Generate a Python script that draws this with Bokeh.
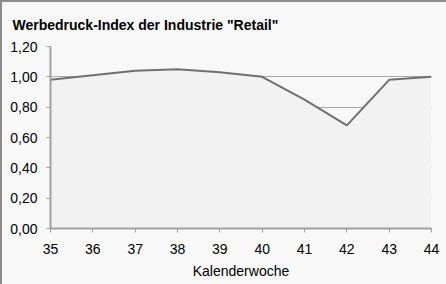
from bokeh.plotting import figure
from bokeh.models import FixedTicker, Range1d
from bokeh.embed import file_html
from bokeh.resources import INLINE

weeks = [35, 36, 37, 38, 39, 40, 41, 42, 43, 44]
index_values = [0.98, 1.01, 1.04, 1.05, 1.03, 1.00, 0.85, 0.68, 0.98, 1.00]
y_ticks = [0, 0.2, 0.4, 0.6, 0.8, 1.0, 1.2]
y_labels = ["0,00", "0,20", "0,40", "0,60", "0,80", "1,00", "1,20"]
title_text = 'Werbedruck-Index der Industrie "Retail"'
x_label = "Kalenderwoche"

FONT = "Liberation Sans"

p = figure(width=446, height=284, output_backend="svg", toolbar_location=None,
           x_range=Range1d(35, 44), y_range=Range1d(0, 1.2),
           min_border_left=50, min_border_right=15, min_border_top=46, min_border_bottom=56,
           background_fill_color="#f8f8f8", border_fill_color=None)
p.styles = {"background-color": "#f8f8f8", "box-shadow": "inset 2px 2px 0 0 #8c8c8c"}

p.title.text = title_text
p.title.text_font = FONT
p.title.text_font_size = "14px"
p.title.text_font_style = "bold"
p.title.text_color = "#000000"
p.title.align = "left"
p.title.offset = -38
p.title.standoff = 28

p.outline_line_color = None

p.varea(x=weeks, y1=[0] * len(weeks), y2=index_values, fill_color="#f2f2f2",
        hatch_pattern="v_line", hatch_color="#e4e4e4", hatch_scale=3, hatch_weight=1)
p.line(x=weeks, y=index_values, line_color="#707070", line_width=2)

p.xaxis.ticker = FixedTicker(ticks=weeks)
p.yaxis.ticker = FixedTicker(ticks=y_ticks)
p.yaxis.major_label_overrides = {t: l for t, l in zip(y_ticks, y_labels)}

for ax in (p.xaxis, p.yaxis):
    ax.axis_line_color = "#a0a0a0"
    ax.axis_line_width = 2
    ax.major_tick_line_color = "#a0a0a0"
    ax.major_tick_out = 4
    ax.major_tick_in = 0
    ax.minor_tick_line_color = None
    ax.major_label_text_font = FONT
    ax.major_label_text_font_size = "14px"
    ax.major_label_text_color = "#000000"

p.yaxis.major_label_standoff = 9
p.xaxis.major_label_standoff = 11
p.xaxis.axis_label = x_label
p.xaxis.axis_label_text_font = FONT
p.xaxis.axis_label_text_font_size = "14px"
p.xaxis.axis_label_text_font_style = "normal"
p.xaxis.axis_label_text_color = "#000000"
p.xaxis.axis_label_standoff = 6

p.xgrid.grid_line_color = None
p.ygrid.grid_line_color = "#a8a8a8"
p.ygrid.grid_line_width = 1

open("out.html", "w").write(file_html(p, INLINE))
